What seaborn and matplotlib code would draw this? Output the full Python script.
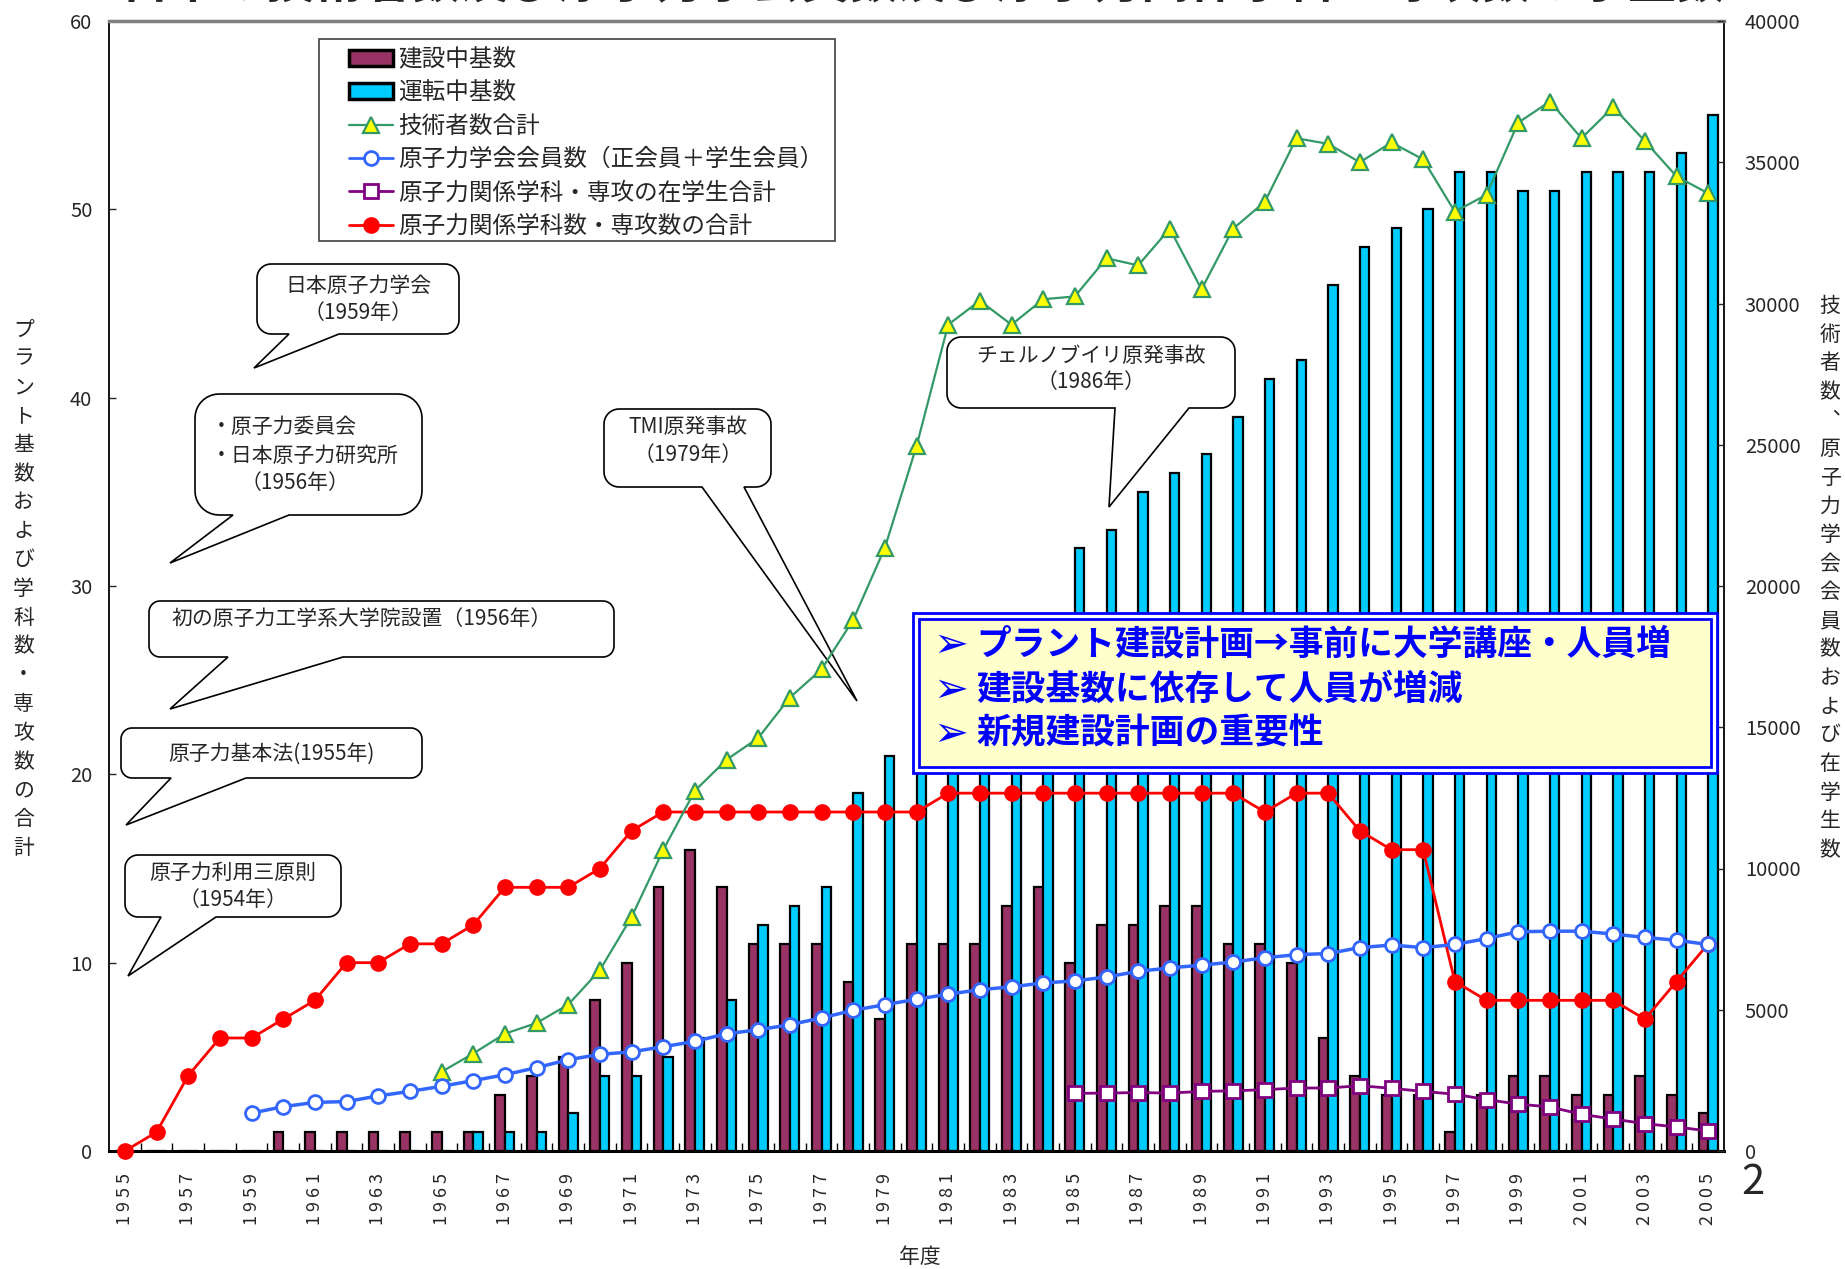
import numpy as np
import pandas as pd
import matplotlib
matplotlib.use("Agg")
import matplotlib.pyplot as plt
from matplotlib.patches import Polygon, Rectangle, Patch
from matplotlib.lines import Line2D
import seaborn as sns

# ---------------------------------------------------------------- data
years = list(range(1955, 2006))

# plant counts (left axis)
under_construction = [0, 0, 0, 0, 0, 1, 1, 1, 1, 1, 1, 1, 3, 4, 5, 8, 10, 14, 16, 14,
                      11, 11, 11, 9, 7, 11, 11, 11, 13, 14, 10, 12, 12, 13, 13, 11, 11,
                      10, 6, 4, 3, 3, 1, 3, 4, 4, 3, 3, 4, 3, 2]
operating = [0, 0, 0, 0, 0, 0, 0, 0, 0, 0, 0, 1, 1, 1, 2, 4, 4, 5, 6, 8,
             12, 13, 14, 19, 21, 22, 23, 24, 25, 26, 32, 33, 35, 36, 37, 39, 41,
             42, 46, 48, 49, 50, 52, 52, 51, 51, 52, 52, 52, 53, 55]
departments = [0, 1, 4, 6, 6, 7, 8, 10, 10, 11, 11, 12, 14, 14, 14, 15, 17, 18, 18, 18,
               18, 18, 18, 18, 18, 18, 19, 19, 19, 19, 19, 19, 19, 19, 19, 19, 18,
               19, 19, 17, 16, 16, 9, 8, 8, 8, 8, 8, 7, 9, 11]

# head counts (right axis)
engineer_years = list(range(1965, 2006))
engineers = [2800, 3450, 4150, 4530, 5180, 6400, 8280, 10650, 12750, 13850,
             14620, 16050, 17050, 18800, 21350, 24950, 29250, 30100, 29250, 30150,
             30250, 31600, 31350, 32650, 30500, 32650, 33600, 35850, 35650, 35000,
             35700, 35100, 33250, 33850, 36400, 37150, 35850, 36950, 35750, 34500,
             33900]
member_years = list(range(1959, 2006))
members = [1340, 1570, 1720, 1750, 1950, 2110, 2290, 2490, 2700, 2950,
           3230, 3420, 3510, 3690, 3880, 4150, 4290, 4470, 4710, 4980,
           5180, 5370, 5550, 5710, 5810, 5950, 6020, 6160, 6360, 6480,
           6580, 6690, 6840, 6950, 6990, 7200, 7290, 7200, 7310, 7520,
           7760, 7780, 7780, 7680, 7560, 7460, 7310]
student_years = list(range(1985, 2006))
students = [2040, 2050, 2070, 2050, 2110, 2130, 2170, 2230, 2230, 2310,
            2220, 2110, 2010, 1820, 1660, 1560, 1300, 1130, 970, 850, 710]

series_names = ["建設中基数", "運転中基数", "技術者数合計",
                "原子力学会会員数（正会員＋学生会員）",
                "原子力関係学科・専攻の在学生合計",
                "原子力関係学科数・専攻数の合計"]

tick_years = list(range(1955, 2006, 2))
tick_labels = [" ".join(str(y)) for y in tick_years]

left_label = "プラント基数および学科数・専攻数の合計"
right_label = "技術者数︑原子力学会会員数および在学生数"
title = "日本の技術者数及び原子力学会員数及び原子力関係学科・専攻数と学生数"

MAROON = "#993366"
CYAN = "#00CCFF"
GREEN = "#339966"
BLUE = "#3366FF"
PURPLE = "#800080"
RED = "#FF0000"

# ---------------------------------------------------------------- style
sns.set_style("white")
plt.rcParams["font.family"] = ["Noto Sans CJK JP", "DejaVu Sans"]

W, H = 1845, 1269
fig = plt.figure(figsize=(W / 100, H / 100), dpi=100, facecolor="white")


def fx(x):
    return x / W


def fy(y):
    return 1 - y / H


ax = fig.add_axes([fx(109), fy(1151), (1724 - 109) / W, (1151 - 21) / H])
ax2 = ax.twinx()

# ---------------------------------------------------------------- bars
bars = pd.DataFrame({
    "年度": years * 2,
    "基数": under_construction + operating,
    "系列": [series_names[0]] * len(years) + [series_names[1]] * len(years),
})
sns.barplot(data=bars, x="年度", y="基数", hue="系列",
            hue_order=series_names[:2], palette=[MAROON, CYAN],
            native_scale=True, width=0.6, saturation=1, errorbar=None,
            edgecolor="black", linewidth=1.6, legend=False, ax=ax, zorder=1)

# departments line (left axis)
sns.lineplot(x=years, y=departments, ax=ax, color=RED, linewidth=2,
             marker="o", markersize=11, markerfacecolor=RED,
             markeredgecolor=RED, markeredgewidth=1, clip_on=False, zorder=4)

# head-count lines (right axis)
sns.lineplot(x=engineer_years, y=engineers, ax=ax2, color=GREEN, linewidth=1.6,
             marker="^", markersize=11, markerfacecolor="#FFFF00",
             markeredgecolor=GREEN, markeredgewidth=1.6, zorder=3)
sns.lineplot(x=member_years, y=members, ax=ax2, color=BLUE, linewidth=2.5,
             marker="o", markersize=10, markerfacecolor="white",
             markeredgecolor=BLUE, markeredgewidth=2, zorder=3)
sns.lineplot(x=student_years, y=students, ax=ax2, color=PURPLE, linewidth=2,
             marker="s", markersize=10, markerfacecolor="white",
             markeredgecolor=PURPLE, markeredgewidth=2, zorder=3)

# ---------------------------------------------------------------- axes
ax.set_xlim(1954.5, 2005.5)
ax.set_ylim(0, 60)
ax2.set_ylim(0, 40000)
ax.set_xlabel("")
ax.set_ylabel("")
ax2.set_ylabel("")

ax.set_xticks(tick_years)
ax.set_xticklabels(tick_labels, rotation=90, fontsize=13)
ax.tick_params(axis="x", which="major", length=0, pad=16)
ax.set_xticks(np.arange(1955.5, 2005.5, 1.0), minor=True)
ax.tick_params(axis="x", which="minor", direction="in", length=6, width=1,
               color="black", bottom=True)

ax.set_yticks(range(0, 61, 10))
ax.tick_params(axis="y", direction="in", length=5, width=1, pad=12,
               labelsize=14.5, left=True)
ax2.set_yticks(range(0, 40001, 5000))
ax2.tick_params(axis="y", direction="in", length=5, width=1, pad=15,
                labelsize=14.5, right=True)

for side in ("left", "right", "bottom"):
    ax.spines[side].set_color("black")
    ax.spines[side].set_linewidth(1.3)
ax.spines["bottom"].set_linewidth(2.2)
ax.spines["top"].set_color("#808080")
ax.spines["top"].set_linewidth(2.5)
for side in ax2.spines:
    ax2.spines[side].set_visible(False)

# ---------------------------------------------------------------- callouts


def bubble(x0, y0, x1, y1, base_l, base_r, tip, r):
    pts = []

    def arc(cx, cy, a0, a1):
        for t in np.linspace(a0, a1, 10):
            pts.append((cx + r * np.cos(t), cy + r * np.sin(t)))

    arc(x0 + r, y0 + r, np.pi, 1.5 * np.pi)
    arc(x1 - r, y0 + r, 1.5 * np.pi, 2 * np.pi)
    arc(x1 - r, y1 - r, 0, 0.5 * np.pi)
    pts += [(base_r, y1), tip, (base_l, y1)]
    arc(x0 + r, y1 - r, 0.5 * np.pi, np.pi)
    poly = Polygon([(fx(px), fy(py)) for px, py in pts], closed=True,
                   facecolor="white", edgecolor="black", linewidth=1.2,
                   transform=fig.transFigure, zorder=5, clip_on=False)
    ax.add_artist(poly)


def btext(x, y, s, ha="center"):
    ax.text(fx(x), fy(y), s, transform=fig.transFigure, ha=ha, va="center",
            fontsize=15, zorder=6, clip_on=False)


bubble(257, 264, 459, 334, 289, 339, (254, 368), 14)
btext(358, 286, "日本原子力学会")
btext(358, 313, "（1959年）")

bubble(195, 394, 422, 515, 233, 289, (170, 563), 24)
btext(211, 427, "・原子力委員会", ha="left")
btext(211, 456, "・日本原子力研究所", ha="left")
btext(295, 483, "（1956年）")

bubble(149, 601, 614, 657, 228, 343, (170, 709), 11)
btext(171, 619, "初の原子力工学系大学院設置（1956年）", ha="left")

bubble(121, 728, 422, 778, 171, 246, (126, 825), 11)
btext(271, 754, "原子力基本法(1955年)")

bubble(125, 855, 341, 917, 161, 216, (128, 976), 13)
btext(233, 873, "原子力利用三原則")
btext(233, 900, "（1954年）")

bubble(604, 409, 771, 487, 702, 744, (857, 701), 15)
btext(688, 427, "TMI原発事故")
btext(688, 455, "（1979年）")

bubble(947, 337, 1235, 408, 1115, 1189, (1109, 507), 14)
btext(1091, 356, "チェルノブイリ原発事故")
btext(1091, 382, "（1986年）")

# ---------------------------------------------------------------- message box
fig.add_artist(Rectangle((fx(913), fy(773)), (1717 - 913) / W, (773 - 613) / H,
                         transform=fig.transFigure, facecolor="white",
                         edgecolor="#0000FF", linewidth=2, zorder=10))
fig.add_artist(Rectangle((fx(919), fy(767)), (1711 - 919) / W, (767 - 619) / H,
                         transform=fig.transFigure, facecolor="#FFFFCC",
                         edgecolor="#0000FF", linewidth=2, zorder=10))
messages = ["プラント建設計画→事前に大学講座・人員増",
            "建設基数に依存して人員が増減",
            "新規建設計画の重要性"]
for yy, msg in zip((644, 689, 733), messages):
    fig.text(fx(951), fy(yy + 1), "➢", ha="center", va="center",
             fontsize=30, color="#0000FF", zorder=11)
    fig.text(fx(976), fy(yy), msg, ha="left", va="center",
             fontsize=25, fontweight="bold", color="#0000FF", zorder=11)

# ---------------------------------------------------------------- legend
fig.add_artist(Rectangle((fx(319), fy(241)), (835 - 319) / W, (241 - 39) / H,
                         transform=fig.transFigure, facecolor="white",
                         edgecolor="#404040", linewidth=1.2, zorder=4))
handles = [
    Patch(facecolor=MAROON, edgecolor="black", linewidth=2.5),
    Patch(facecolor=CYAN, edgecolor="black", linewidth=2.5),
    Line2D([], [], color=GREEN, lw=1.6, marker="^", ms=11, mfc="#FFFF00",
           mec=GREEN, mew=1.6),
    Line2D([], [], color=BLUE, lw=2, marker="o", ms=10, mfc="white",
           mec=BLUE, mew=2),
    Line2D([], [], color=PURPLE, lw=2, marker="s", ms=10, mfc="white",
           mec=PURPLE, mew=2),
    Line2D([], [], color=RED, lw=2, marker="o", ms=11, mfc=RED, mec=RED),
]
leg = fig.legend(handles, series_names, loc="upper left",
                 bbox_to_anchor=(fx(349), fy(48)), frameon=False, fontsize=17,
                 handlelength=1.85, handleheight=0.65, handletextpad=0.25,
                 labelspacing=0.44, borderpad=0, borderaxespad=0)
leg.set_zorder(5)

# ---------------------------------------------------------------- labels
fig.text(fx(23.5), fy(589), "\n".join(left_label), ha="center", va="center",
         fontsize=15, linespacing=1.40)
fig.text(fx(1830), fy(578), "\n".join(right_label), ha="center", va="center",
         fontsize=15, linespacing=1.39)
fig.text(fx(920), fy(1257), "年度", ha="center", va="center", fontsize=15)
fig.text(fx(1753), fy(1183), "2", ha="center", va="center", fontsize=30)
fig.text(0.5, fy(-2), title, ha="center", va="baseline", fontsize=35,
         fontweight="bold")

fig.savefig("out.png", dpi=100, facecolor="white")
